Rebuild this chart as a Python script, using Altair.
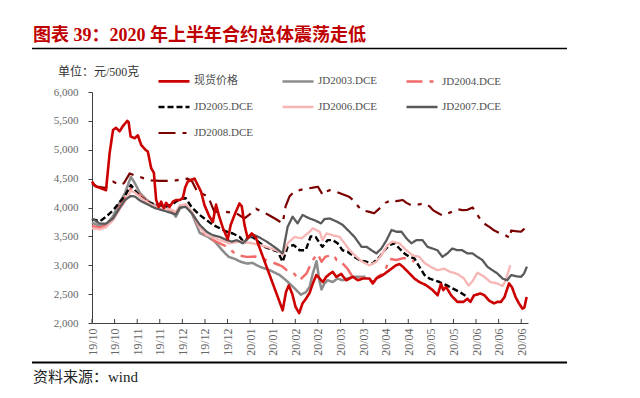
import altair as alt
import pandas as pd

# ---------------- data (x = trading-day position, 10 units per axis label) ----------------
tick_labels = ["19/10", "19/10", "19/11", "19/11", "19/12", "19/12", "19/12", "20/01", "20/01",
               "20/02", "20/02", "20/03", "20/03", "20/04", "20/04", "20/05", "20/05",
               "20/06", "20/06", "20/06"]
y_ticks = [2000, 2500, 3000, 3500, 4000, 4500, 5000, 5500, 6000]

series_names = ["现货价格", "JD2003.DCE", "JD2004.DCE", "JD2005.DCE",
                "JD2006.DCE", "JD2007.DCE", "JD2008.DCE"]

early_x = [0, 3.5, 6.2, 9.3, 12.4, 14.6, 17.2, 19.0, 21.2, 24.3, 27.8, 32.3, 35.4, 37.1,
           38.9, 41.5, 44.2, 47.7]

spot_x = [0, 1.3, 3.5, 6.2, 7.8, 9.3, 10.6, 12.2, 13.7, 15.6, 16.2, 17.1, 18.9, 20.3, 21.8,
          23.6, 24.7, 26.2, 27.4, 28.4, 29.5, 30.6, 31.8, 32.8, 34.3, 35.8, 37.3, 38.8, 40.2,
          41.2, 42.4, 43.9, 45.4, 46.8, 48.3, 49.8, 52.0, 53.5, 54.9, 56.1, 57.9, 60.1, 61.4,
          63.6, 65.3, 66.3, 67.5, 68.9, 70.7, 72.5, 84.4, 85.9, 87.1, 88.6, 90.1, 91.7, 93.2,
          94.7, 96.3, 97.8, 99.3, 100.8, 102.2, 103.7, 105.2, 106.6, 108.1, 110.3, 112.5,
          115.5, 117.7, 119.9, 122.8, 124.3, 125.8, 128.7, 131.7, 134.6, 136.1, 137.6, 140.5,
          142.7, 144.9, 147.9, 150.8, 153.0, 154.5, 155.5, 156.7, 159.0, 161.7, 164.4, 166.2,
          167.5, 169.1, 172.0, 173.7, 175.7, 178.0, 179.4, 181.0, 182.6, 184.6, 185.9, 187.5,
          189.0, 190.5, 191.4, 192.4]
spot_y = [4450, 4370, 4340, 4300, 4940, 5340, 5380, 5320, 5410, 5500, 5480, 5230, 5200, 5250,
          5080, 5000, 4970, 4680, 4600, 4130, 4010, 4100, 3990, 4080, 4010, 4100, 4130, 4130,
          4160, 4340, 4450, 4480, 4500, 4390, 4270, 4040, 3840, 3750, 4050, 3870, 3650, 3450,
          3700, 3920, 4070, 4020, 3700, 3470, 3550, 3480, 2220, 2540, 2650, 2510, 2280, 2170,
          2340, 2420, 2520, 2690, 2830, 2770, 2710, 2800, 2850, 2885, 2800, 2850, 2740, 2800,
          2740, 2770, 2770, 2685, 2770, 2830, 2915, 3000, 3020, 2975, 2860, 2770, 2710, 2655,
          2570, 2480, 2680, 2570, 2625, 2480, 2365, 2365, 2420, 2365, 2480, 2510, 2480, 2390,
          2340, 2365, 2365, 2450, 2685, 2620, 2450, 2340, 2250, 2270, 2450]

jd2003_x = early_x + [51.4, 54.4, 57.9, 60.5, 63.2, 65.8, 68.5, 71.1, 74.2, 78.7, 83.1, 85.3,
                      87.5, 89.7, 92.4, 94.6, 96.3, 97.7, 99.4, 100.6, 101.6, 102.9, 104.3,
                      106.5, 108.7, 110.9, 113.1, 115.3, 118.4, 121.1]
jd2003_y = [3740, 3680, 3700, 3850, 4100, 4250, 4530, 4420, 4250, 4130, 4040, 4000, 3930,
            3840, 3980, 4040, 3900, 3560] + \
           [3490, 3410, 3250, 3145, 3110, 3060, 3030, 3040, 2975, 2915, 2830, 2760, 2680,
            2600, 2490, 2530, 2625, 2850, 3070, 2750, 2580, 2685, 2740, 2710, 2770, 2740,
            2770, 2800, 2800, 2800]

jd2004_x = early_x + [50.8, 54.4, 56.6, 59.7, 64.1, 68.5, 72.5, 77.3, 83.1, 84.4, 86.2, 88.8,
                      91.9, 95.0, 97.7, 99.9, 101.6, 103.4, 106.9, 108.3, 109.6, 113.1, 114.9,
                      118.4, 121.1, 124.9, 126.4, 129.5, 131.7, 134.8, 137.4, 140.5, 142.7]
jd2004_y = [3680, 3650, 3690, 3800, 4030, 4180, 4330, 4300, 4220, 4110, 4030, 3990, 3950,
            3900, 4020, 4050, 3920, 3640] + \
           [3500, 3420, 3380, 3320, 3175, 3145, 3150, 3090, 3000, 2975, 2915, 2885, 2740,
            2860, 3090, 3200, 3060, 3150, 3180, 3090, 3090, 2940, 2830, 2790, 2770, 2710,
            2800, 2880, 3110, 3090, 3120, 3120, 3060]

jd2005_x = early_x + [50.8, 53.5, 56.6, 59.7, 62.3, 65.4, 67.6, 68.9, 71.1, 76.4, 82.2, 84.4,
                      86.6, 89.3, 91.9, 94.6, 96.8, 99.0, 100.8, 102.0, 104.3, 106.5, 108.7,
                      110.9, 113.1, 116.2, 118.4, 121.5, 124.1, 127.3, 129.5, 131.7, 133.9,
                      136.1, 138.3, 140.5, 142.7, 144.9, 147.2, 149.4, 151.6, 153.8, 156.9,
                      159.5, 162.6, 165.3]
jd2005_y = [3800, 3760, 3840, 3950, 4100, 4200, 4390, 4300, 4190, 4100, 4050, 4010, 4050,
            4100, 4150, 4160, 4000, 3870] + \
           [3780, 3700, 3640, 3580, 3550, 3490, 3380, 3490, 3490, 3320, 3235, 3060, 3320,
            3350, 3260, 3260, 3500, 3490, 3380, 3320, 3435, 3435, 3380, 3260, 3235, 3145,
            3090, 3060, 3030, 3145, 3260, 3350, 3380, 3290, 3205, 3145, 3120, 2975, 2830,
            2770, 2740, 2710, 2655, 2600, 2540, 2470]

jd2006_x = early_x + [50.8, 56.6, 61.0, 65.4, 71.1, 77.3, 83.1, 84.4, 86.6, 89.7, 92.8, 96.3,
                      97.7, 100.8, 102.0, 103.8, 106.5, 109.6, 111.8, 114.0, 117.1, 119.7,
                      122.8, 125.9, 128.6, 130.8, 133.0, 136.1, 139.2, 141.8, 144.9, 147.2,
                      149.8, 152.9, 155.9, 158.6, 161.7, 164.4, 166.7, 168.4, 170.6, 173.7,
                      176.3, 179.4, 181.7, 182.9, 185.2]
jd2006_y = [3640, 3620, 3660, 3780, 3980, 4100, 4290, 4260, 4180, 4090, 4020, 3980, 3960,
            3920, 4040, 4050, 3930, 3650] + \
           [3520, 3435, 3380, 3410, 3380, 3320, 3235, 3175, 3380, 3490, 3465, 3580, 3640,
            3580, 3435, 3550, 3520, 3490, 3380, 3260, 3145, 3060, 3000, 3060, 3205, 3350,
            3410, 3380, 3260, 3175, 3145, 3040, 2975, 2915, 2940, 2885, 2850, 2780, 2650,
            2720, 2870, 2800, 2710, 2685, 2640, 2720, 3000]

jd2007_x = early_x + [50.8, 53.5, 56.6, 59.7, 61.9, 64.1, 66.7, 69.8, 72.0, 74.2, 77.3, 81.7,
                      84.4, 86.6, 88.8, 91.0, 93.2, 96.3, 98.5, 101.4, 102.9, 105.2, 108.7,
                      110.9, 114.0, 116.2, 119.3, 121.5, 123.7, 125.9, 128.1, 130.4, 132.6,
                      134.8, 137.0, 139.2, 141.4, 143.6, 146.3, 148.5, 150.7, 152.9, 155.1,
                      157.3, 159.5, 161.7, 163.9, 166.2, 168.4, 170.6, 172.8, 175.0, 177.2,
                      179.4, 181.7, 183.8, 185.5, 187.7, 189.9, 191.3, 192.5]
jd2007_y = [3810, 3720, 3720, 3810, 4000, 4130, 4200, 4190, 4120, 4060, 3990, 3940, 3900,
            3880, 4000, 4010, 3900, 3700] + \
           [3580, 3520, 3490, 3435, 3410, 3435, 3380, 3490, 3520, 3480, 3410, 3290, 3205,
            3665, 3840, 3725, 3870, 3810, 3780, 3725, 3800, 3810, 3750, 3700, 3580, 3490,
            3320, 3320, 3260, 3205, 3290, 3435, 3610, 3580, 3580, 3465, 3380, 3435, 3435,
            3320, 3290, 3260, 3145, 3205, 3290, 3260, 3260, 3205, 3205, 3145, 3090, 2975,
            2915, 2860, 2770, 2740, 2830, 2810, 2800, 2860, 2975]

jd2008_x = [0, 2.2, 5.7, 8.0, 9.3, 12.2, 14.1, 16.7, 18.6, 21.1, 23.4, 26.2, 30.0, 33.6, 37.3,
            39.8, 42.4, 44.2, 46.3, 48.6, 51.4, 54.2, 57.4, 60.1, 63.9, 67.5, 69.8, 72.6, 75.1,
            77.8, 81.3, 84.4, 85.7, 87.4, 89.6, 91.9, 94.9, 97.2, 100.0, 102.2, 103.8, 105.2,
            108.3, 111.8, 114.0, 115.5, 119.2, 121.1, 122.8, 124.9, 127.3, 129.9, 132.4, 134.8,
            137.6, 139.2, 141.3, 144.1, 147.2, 149.4, 150.9, 152.9, 155.2, 156.9, 158.9, 161.7,
            164.0, 166.2, 168.5, 170.1, 172.2, 173.7, 175.9, 178.1, 180.3, 182.5, 185.2, 185.5,
            187.4, 189.9, 191.3, 192.4]
jd2008_y = [4420, 4360, 4340, 4400, 4450, 4390, 4420, 4590, 4560, 4530, 4500, 4470, 4460,
            4460, 4470, 4490, 4500, 4460, 4300, 4240, 4190, 3920, 3930, 3920, 3900, 3810,
            3880, 3980, 3930, 3880, 3800, 3725, 4020, 4190, 4280, 4300, 4330, 4340, 4360,
            4215, 4280, 4300, 4270, 4215, 4180, 4130, 3955, 3940, 3925, 3900, 3985, 4080,
            4130, 4110, 4130, 4080, 4040, 4050, 4070, 4020, 3955, 3910, 3860, 3890, 3920,
            3970, 3955, 3960, 4000, 3900, 3780, 3720, 3665, 3600, 3560, 3530, 3470, 3600,
            3590, 3580, 3630, 3700]

# ---------------- styling ----------------
colors = ["#CC0000", "#8C8C8C", "#F26B6B", "#000000", "#F7B6B6", "#595959", "#7B0000"]
dashes = [[1, 0], [1, 0], [16, 7, 4, 7], [6, 3], [1, 0], [1, 0], [17, 7, 4, 7]]
widths = [2.6, 2.2, 2.3, 2.3, 2.2, 2.6, 2.6]
LATIN_CJK = "Liberation Serif, Noto Sans CJK SC"

rows = []
# contracts first, spot last so it is drawn on top
for name, xs, ys in [(series_names[1], jd2003_x, jd2003_y), (series_names[2], jd2004_x, jd2004_y),
                     (series_names[3], jd2005_x, jd2005_y), (series_names[4], jd2006_x, jd2006_y),
                     (series_names[5], jd2007_x, jd2007_y), (series_names[6], jd2008_x, jd2008_y),
                     (series_names[0], spot_x, spot_y)]:
    for a, b in zip(xs, ys):
        rows.append({"series": name, "t": a, "price": b})
df = pd.DataFrame(rows)

tick_pos = [10 * i for i in range(len(tick_labels))]
label_expr = "[" + ",".join("'%s'" % s for s in tick_labels) + "][round(datum.value/10)]"

xscale = alt.Scale(domain=[0, 193], nice=False, zero=False)
x_axis = alt.Axis(values=tick_pos, labelExpr=label_expr, labelAngle=270, ticks=False,
                  grid=False, domainColor="#404040", domainWidth=1,
                  labelOverlap=False, labelBound=False, labelFlush=False, labelSeparation=0,
                  labelFont="Liberation Serif", labelFontSize=12, labelColor="#666666",
                  labelPadding=5, title=None)

lines = alt.Chart(df).mark_line(strokeCap="butt", strokeJoin="round").encode(
    x=alt.X("t:Q", scale=xscale, axis=x_axis),
    y=alt.Y("price:Q", scale=alt.Scale(domain=[2000, 6000], nice=False, zero=False),
            axis=alt.Axis(values=y_ticks, format=",.0f", grid=False, domainColor="#404040",
                          tickColor="#404040", tickSize=4, labelFont="Liberation Serif",
                          labelOverlap=False, labelFlush=False,
                          labelFontSize=11, labelColor="#666666", labelPadding=10, title=None)),
    color=alt.Color("series:N", scale=alt.Scale(domain=series_names, range=colors),
                    legend=alt.Legend(orient="none", legendX=65, legendY=-28, columns=3,
                                      direction="horizontal", values=series_names,
                                      title=None, symbolType="stroke", symbolSize=961,
                                      labelFont=LATIN_CJK, labelFontSize=11,
                                      labelColor="#505050", labelOffset=3, columnPadding=24,
                                      rowPadding=3, gridAlign="all", labelLimit=200)),
    strokeDash=alt.StrokeDash("series:N", scale=alt.Scale(domain=series_names, range=dashes)),
    strokeWidth=alt.StrokeWidth("series:N", scale=alt.Scale(domain=series_names, range=widths)),
)

xticks = alt.Chart(pd.DataFrame({"t": tick_pos})).mark_rule(color="#404040").encode(
    x=alt.X("t:Q", scale=xscale, axis=x_axis), y=alt.value(231), y2=alt.value(227))

one = pd.DataFrame({"k": [0]})

def text(txt, x, y, size, color, weight="normal", font=LATIN_CJK):
    return alt.Chart(one).mark_text(align="left", baseline="middle", fontSize=size,
                                    color=color, fontWeight=weight, font=font).encode(
        x=alt.value(x), y=alt.value(y), text=alt.value(txt))

def hline(x1, x2, y, w):
    return alt.Chart(one).mark_rule(color="#000000", strokeWidth=w).encode(
        x=alt.value(x1), x2=alt.value(x2), y=alt.value(y))

title = text("图表 39：2020 年上半年合约总体震荡走低", -59, -56, 18, "#C00000", "bold")
unit = text("单位：元/500克", -34, -20, 12, "#333333")
source = text("资料来源：wind", -59, 285, 15, "#222222")

chart = alt.layer(lines, xticks, title, hline(-60, 475, -43.5, 1.5), unit,
                  hline(-60, 475, 270.5, 2), source).properties(
    width=436, height=231,
    padding={"left": 84, "top": 84, "right": 104, "bottom": 67},
    autosize=alt.AutoSizeParams(type="none"),
    background="white",
).configure_view(stroke=None).configure_axis(labelOverlap=False)

chart.save("out.html", embed_options={"renderer": "svg", "actions": False})
